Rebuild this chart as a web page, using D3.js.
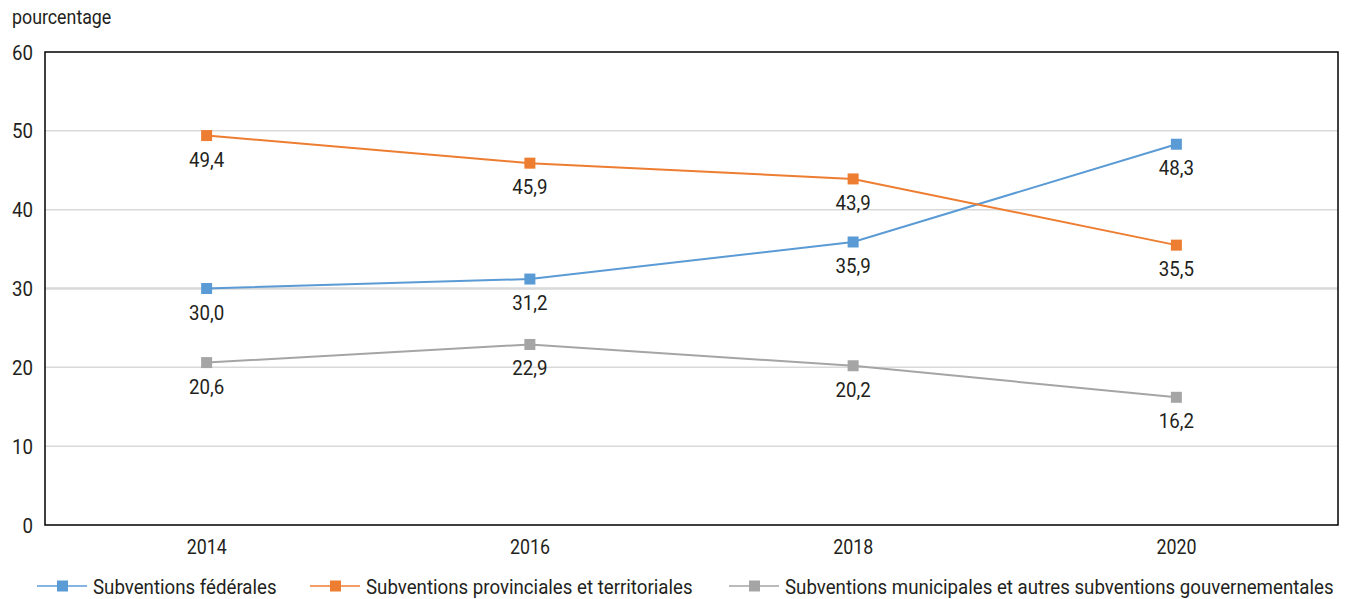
<!DOCTYPE html>
<html><head><meta charset="utf-8">
<script src="https://cdn.jsdelivr.net/npm/d3@7"></script>
<style>
body{margin:0;background:#fff;}
text{font-family:"Roboto",sans-serif;fill:#231f20;}
</style></head>
<body><svg id="c" width="1351" height="599"></svg>
<script>
const years = ["2014","2016","2018","2020"];
const federal = [30.0, 31.2, 35.9, 48.3];
const provincial = [49.4, 45.9, 43.9, 35.5];
const municipal = [20.6, 22.9, 20.2, 16.2];
const seriesNames = ["Subventions fédérales","Subventions provinciales et territoriales","Subventions municipales et autres subventions gouvernementales"];
const yTicks = [0,10,20,30,40,50,60];
const colors = ["#5b9bd5","#ed7d31","#a5a5a5"];

const series = [federal, provincial, municipal].map((v,i)=>({name:seriesNames[i], values:v, color:colors[i]}));
const svg = d3.select("#c");
const L=45,R=1338,T=52,B=525;
const SX=0.89, FS=21;
const x = d3.scalePoint().domain(years).range([L,R]).padding(0.5);
const y = d3.scaleLinear().domain([0,60]).range([B,T]);
const fmt = v => d3.format(".1f")(v).replace(".",",");

// condensed text helper
function ctext(g, px, py, str, anchor, size){
  return g.append("text").attr("transform",`translate(${px},${py}) scale(${SX},1)`)
    .attr("text-anchor",anchor||"start").attr("font-size",size||FS).text(str);
}

// gridlines
svg.append("g").selectAll("line").data(yTicks.filter(t=>t>0&&t<60)).join("line")
  .attr("x1",L).attr("x2",R).attr("y1",d=>y(d)).attr("y2",d=>y(d))
  .attr("stroke","#d9d9d9").attr("stroke-width",d=>d===30?2.5:1.5);

// frame
svg.append("rect").attr("x",L).attr("y",T).attr("width",R-L).attr("height",B-T)
  .attr("fill","none").attr("stroke","#000").attr("stroke-width",1.5);

// y axis labels
const ya = svg.append("g");
yTicks.forEach(t=>ctext(ya, 33, y(t)+7.5, String(t), "end"));

// x axis labels
const xa = svg.append("g");
years.forEach(yr=>ctext(xa, x(yr), 554, yr, "middle", 20));

ctext(svg, 12, 24, "pourcentage", "start", 20);

const line = d3.line().x((d,i)=>x(years[i])).y(d=>y(d));
series.forEach(s=>{
  const g = svg.append("g");
  g.append("path").attr("d",line(s.values)).attr("fill","none").attr("stroke",s.color).attr("stroke-width",2);
  g.selectAll("rect").data(s.values).join("rect")
    .attr("x",(d,i)=>x(years[i])-5.5).attr("y",d=>y(d)-5.5).attr("width",11).attr("height",11).attr("fill",s.color);
  s.values.forEach((d,i)=>ctext(g, x(years[i]), y(d)+31, fmt(d), "middle"));
});

// legend
const legX = [37,310,729];
series.forEach((s,i)=>{
  const g = svg.append("g").attr("transform",`translate(${legX[i]},586)`);
  g.append("line").attr("x1",0).attr("x2",50).attr("stroke",s.color).attr("stroke-width",1.5);
  g.append("rect").attr("x",20).attr("y",-5.5).attr("width",11).attr("height",11).attr("fill",s.color);
  ctext(g, 56, 7.5, s.name, "start");
});
</script></body></html>
